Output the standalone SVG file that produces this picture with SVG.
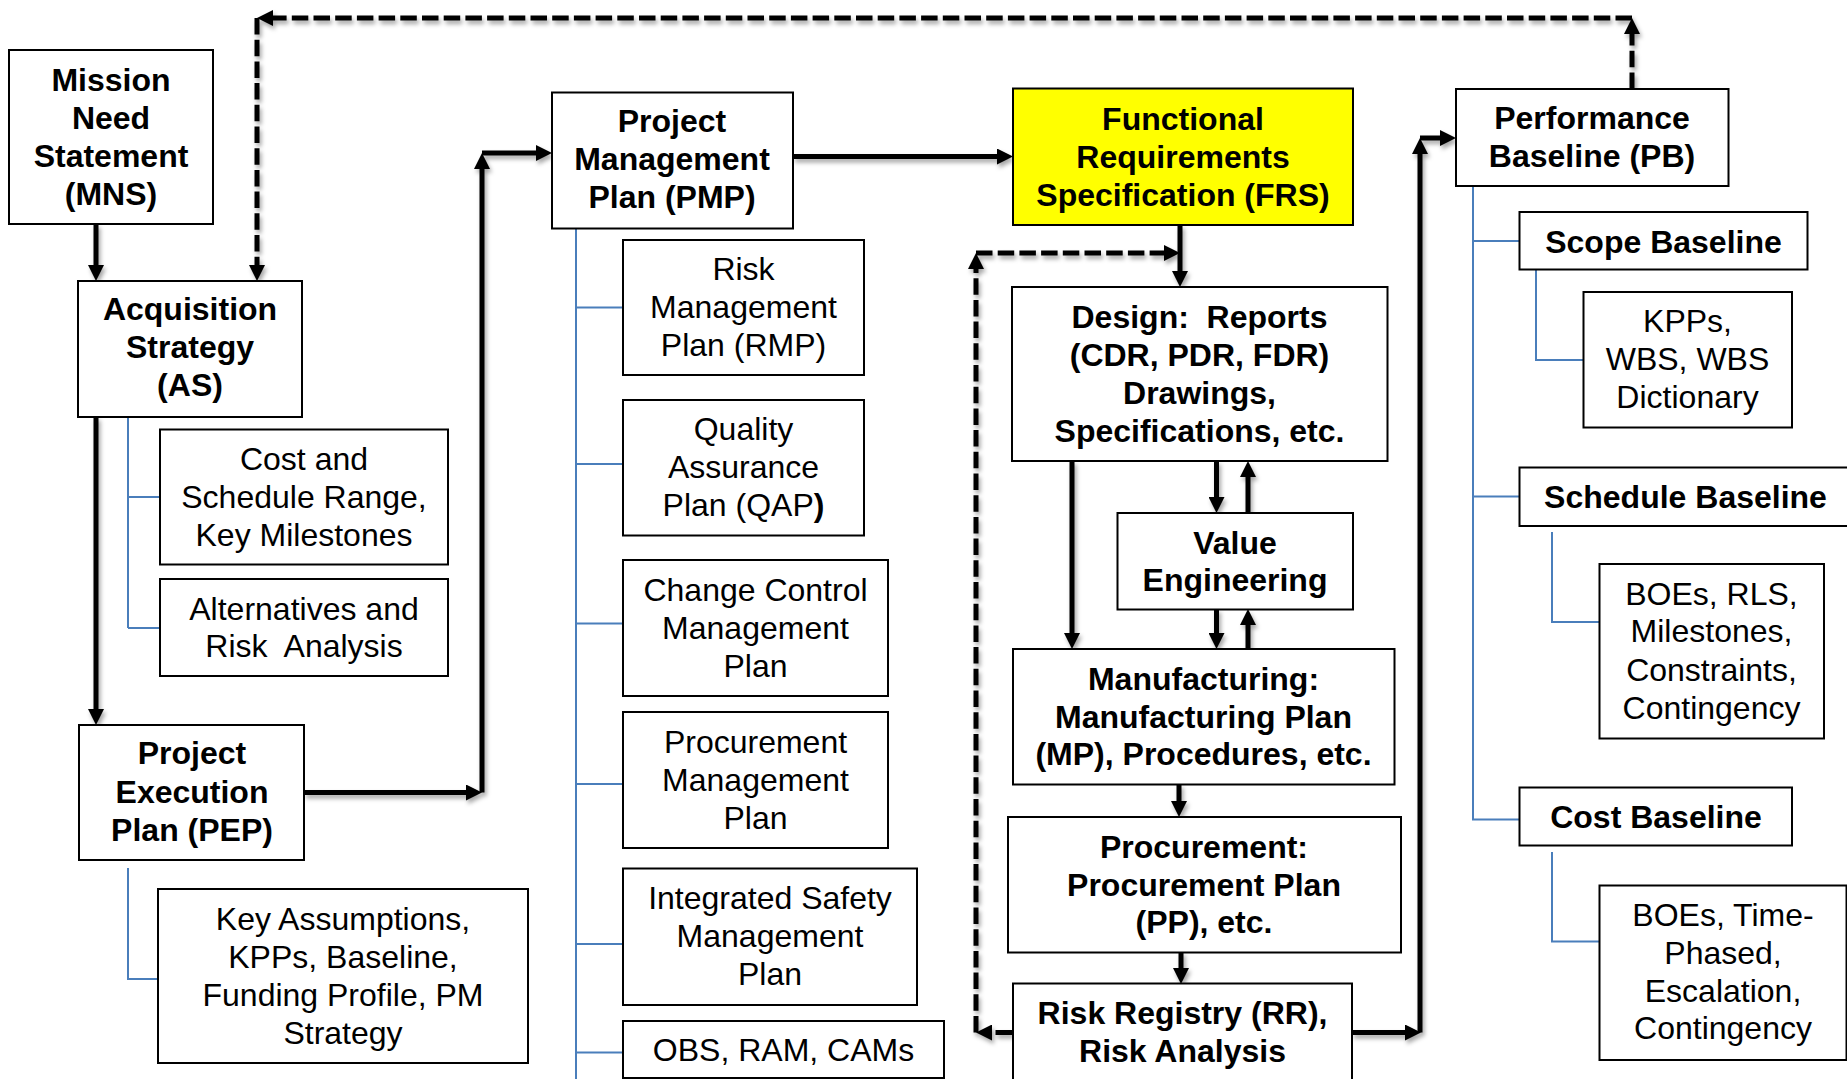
<svg xmlns="http://www.w3.org/2000/svg" width="1847" height="1079" viewBox="0 0 1847 1079">
<defs>
<style>
.box{fill:#fff;stroke:#000;stroke-width:2}
.yel{fill:#ffff00;stroke:#000;stroke-width:2}
text{font-family:"Liberation Sans",Arial,sans-serif;font-size:32px;fill:#000;text-anchor:middle}
.b{font-weight:bold}
.c{fill:none;stroke:#000;stroke-width:5;marker-end:url(#ah)}
.d{fill:none;stroke:#000;stroke-width:5;stroke-dasharray:16.5 5.2;marker-end:url(#ah)}
.bl{fill:none;stroke:#4a7ebb;stroke-width:2}
</style>
<marker id="ah" markerUnits="userSpaceOnUse" markerWidth="16" markerHeight="16" refX="8" refY="8" orient="auto">
<path d="M0,0 L16,8 L0,16 z" fill="#000"/>
</marker>
<filter id="sh" x="-5%" y="-5%" width="110%" height="110%">
<feDropShadow dx="2" dy="3.5" stdDeviation="2" flood-color="#000" flood-opacity="0.35"/>
</filter>
</defs>
<rect width="1847" height="1079" fill="#fff"/>

<g id="tree-lines">
<path class="bl" d="M128,417 V628 M128,497 H160 M128,628 H160"/>
<path class="bl" d="M128,868 V979 H158"/>
<path class="bl" d="M576,228 V1079 M576,307.5 H623 M576,464 H623 M576,623.5 H623 M576,784 H623 M576,944 H623 M576,1052.5 H623"/>
<path class="bl" d="M1473,186 V819.5 H1519 M1473,241 H1519 M1473,496.5 H1519"/>
<path class="bl" d="M1536,270 V360 H1583"/>
<path class="bl" d="M1552,532 V622 H1599"/>
<path class="bl" d="M1552,852 V941.5 H1599"/>
</g>

<g id="connectors" filter="url(#sh)">
<path class="c" d="M96,224 V273"/>
<path class="c" d="M96,417 V717"/>
<path class="c" d="M304,792.5 H474"/>
<path class="c" d="M482,792.5 V161"/>
<path class="c" d="M482,153 H544"/>
<path class="c" d="M793,156.5 H1005"/>
<path class="c" d="M1180,225 V279"/>
<path class="c" d="M1072,461 V641"/>
<path class="c" d="M1216.5,461 V505"/>
<path class="c" d="M1248,513 V469"/>
<path class="c" d="M1216.5,609 V641"/>
<path class="c" d="M1248,649 V617"/>
<path class="c" d="M1179,784 V809"/>
<path class="c" d="M1181,952 V976"/>
<path class="c" d="M1352,1032.5 H1413"/>
<path class="c" d="M1420,1032.5 V146"/>
<path class="c" d="M1420,138 H1448"/>
<path class="d" d="M1012,1032.5 H984"/>
<path class="d" d="M976,1032.5 V261"/>
<path class="d" d="M976,253 H1172"/>
<path class="d" d="M1632,89 V26"/>
<path class="d" d="M1632,18 H265"/>
<path class="d" d="M257,18 V273"/>
</g>

<g id="mns">
<rect class="box" x="9" y="50" width="204" height="174"/>
<text class="b"><tspan x="111" y="91">Mission</tspan><tspan x="111" y="129">Need</tspan><tspan x="111" y="167">Statement</tspan><tspan x="111" y="205">(MNS)</tspan></text>
</g>
<g id="as">
<rect class="box" x="78" y="281" width="224" height="136"/>
<text class="b"><tspan x="190" y="320">Acquisition</tspan><tspan x="190" y="358">Strategy</tspan><tspan x="190" y="396">(AS)</tspan></text>
</g>
<g id="cost-schedule-range">
<rect class="box" x="160" y="429.5" width="288" height="135"/>
<text><tspan x="304" y="470">Cost and</tspan><tspan x="304" y="508">Schedule Range,</tspan><tspan x="304" y="546">Key Milestones</tspan></text>
</g>
<g id="alternatives">
<rect class="box" x="160" y="579" width="288" height="97"/>
<text xml:space="preserve"><tspan x="304" y="620">Alternatives and</tspan><tspan x="304" y="657">Risk  Analysis</tspan></text>
</g>
<g id="pep">
<rect class="box" x="79" y="725" width="225" height="135"/>
<text class="b"><tspan x="192" y="764">Project</tspan><tspan x="192" y="803">Execution</tspan><tspan x="192" y="841">Plan (PEP)</tspan></text>
</g>
<g id="key-assumptions">
<rect class="box" x="158" y="889" width="370" height="174"/>
<text><tspan x="343" y="930">Key Assumptions,</tspan><tspan x="343" y="968">KPPs, Baseline,</tspan><tspan x="343" y="1006">Funding Profile, PM</tspan><tspan x="343" y="1044">Strategy</tspan></text>
</g>

<g id="pmp">
<rect class="box" x="552" y="92.5" width="241" height="136"/>
<text class="b"><tspan x="672" y="132">Project</tspan><tspan x="672" y="170">Management</tspan><tspan x="672" y="208">Plan (PMP)</tspan></text>
</g>
<g id="rmp">
<rect class="box" x="623" y="240" width="241" height="135"/>
<text><tspan x="743.5" y="280">Risk</tspan><tspan x="743.5" y="318">Management</tspan><tspan x="743.5" y="356">Plan (RMP)</tspan></text>
</g>
<g id="qap">
<rect class="box" x="623" y="400" width="241" height="135.5"/>
<text><tspan x="743.5" y="440">Quality</tspan><tspan x="743.5" y="478">Assurance</tspan><tspan x="743.5" y="516">Plan (QAP<tspan class="b">)</tspan></tspan></text>
</g>
<g id="ccmp">
<rect class="box" x="623" y="560" width="265" height="136"/>
<text><tspan x="755.5" y="601">Change Control</tspan><tspan x="755.5" y="639">Management</tspan><tspan x="755.5" y="677">Plan</tspan></text>
</g>
<g id="procurement-mgmt">
<rect class="box" x="623" y="712" width="265" height="136"/>
<text><tspan x="755.5" y="753">Procurement</tspan><tspan x="755.5" y="791">Management</tspan><tspan x="755.5" y="829">Plan</tspan></text>
</g>
<g id="ismp">
<rect class="box" x="623" y="868.5" width="294" height="136.5"/>
<text><tspan x="770" y="909">Integrated Safety</tspan><tspan x="770" y="947">Management</tspan><tspan x="770" y="985">Plan</tspan></text>
</g>
<g id="obs">
<rect class="box" x="623" y="1021" width="321" height="57"/>
<text x="783.5" y="1061">OBS, RAM, CAMs</text>
</g>

<g id="frs">
<rect class="yel" x="1013" y="88.5" width="340" height="136.5"/>
<text class="b"><tspan x="1183" y="130">Functional</tspan><tspan x="1183" y="168">Requirements</tspan><tspan x="1183" y="206">Specification (FRS)</tspan></text>
</g>
<g id="design">
<rect class="box" x="1012" y="287" width="375.5" height="174"/>
<text class="b" xml:space="preserve"><tspan x="1199.5" y="328">Design:  Reports</tspan><tspan x="1199.5" y="366">(CDR, PDR, FDR)</tspan><tspan x="1199.5" y="404">Drawings,</tspan><tspan x="1199.5" y="442">Specifications, etc.</tspan></text>
</g>
<g id="value-engineering">
<rect class="box" x="1117.5" y="513" width="235.5" height="96.5"/>
<text class="b"><tspan x="1235" y="554">Value</tspan><tspan x="1235" y="591">Engineering</tspan></text>
</g>
<g id="manufacturing">
<rect class="box" x="1013" y="649" width="381.5" height="135.5"/>
<text class="b"><tspan x="1203.5" y="690">Manufacturing:</tspan><tspan x="1203.5" y="728">Manufacturing Plan</tspan><tspan x="1203.5" y="765">(MP), Procedures, etc.</tspan></text>
</g>
<g id="procurement">
<rect class="box" x="1008" y="817" width="393" height="135.5"/>
<text class="b"><tspan x="1204" y="858">Procurement:</tspan><tspan x="1204" y="896">Procurement Plan</tspan><tspan x="1204" y="933">(PP), etc.</tspan></text>
</g>
<g id="risk-registry">
<rect class="box" x="1013" y="983.5" width="339" height="110"/>
<text class="b"><tspan x="1182.5" y="1024">Risk Registry (RR),</tspan><tspan x="1182.5" y="1062">Risk Analysis</tspan></text>
</g>

<g id="pb">
<rect class="box" x="1456" y="89" width="272.5" height="97"/>
<text class="b"><tspan x="1592" y="129">Performance</tspan><tspan x="1592" y="167">Baseline (PB)</tspan></text>
</g>
<g id="scope-baseline">
<rect class="box" x="1519.5" y="212" width="288" height="57.5"/>
<text class="b" x="1663.5" y="252.5">Scope Baseline</text>
</g>
<g id="kpps-wbs">
<rect class="box" x="1583.5" y="292" width="208.5" height="135.5"/>
<text><tspan x="1687.5" y="332">KPPs,</tspan><tspan x="1687.5" y="370">WBS, WBS</tspan><tspan x="1687.5" y="408">Dictionary</tspan></text>
</g>
<g id="schedule-baseline">
<rect class="box" x="1519.5" y="467.5" width="340" height="58.5"/>
<text class="b" x="1685.5" y="508">Schedule Baseline</text>
</g>
<g id="schedule-details">
<rect class="box" x="1599.5" y="564" width="224.5" height="174.5"/>
<text><tspan x="1711.5" y="605">BOEs, RLS,</tspan><tspan x="1711.5" y="642">Milestones,</tspan><tspan x="1711.5" y="681">Constraints,</tspan><tspan x="1711.5" y="719">Contingency</tspan></text>
</g>
<g id="cost-baseline">
<rect class="box" x="1519.5" y="787.5" width="272.5" height="58"/>
<text class="b" x="1656" y="828">Cost Baseline</text>
</g>
<g id="cost-details">
<rect class="box" x="1599.5" y="885.5" width="247" height="174.5"/>
<text><tspan x="1723" y="926">BOEs, Time-</tspan><tspan x="1723" y="964">Phased,</tspan><tspan x="1723" y="1002">Escalation,</tspan><tspan x="1723" y="1039">Contingency</tspan></text>
</g>
</svg>
